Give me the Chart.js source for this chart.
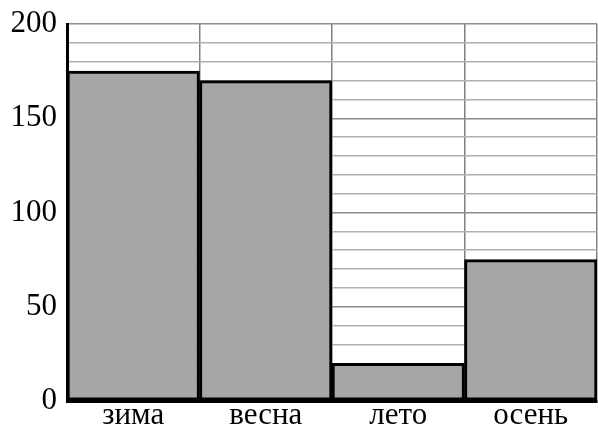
<!DOCTYPE html>
<html>
<head>
<meta charset="utf-8">
<script src="https://cdn.jsdelivr.net/npm/chart.js@4"></script>
<style>
  html, body { margin: 0; padding: 0; background: #fff; }
  #wrap { width: 598px; height: 427px; }
</style>
</head>
<body>
<div id="wrap"><canvas id="seasonChart"></canvas></div>
<script>
const seasons = ["зима", "весна", "лето", "осень"];
const values = [175, 170, 20, 75];
const yTicks = [0, 50, 100, 150, 200];

const ctx = document.getElementById("seasonChart").getContext("2d");

new Chart(ctx, {
  type: "bar",
  data: {
    labels: seasons,
    datasets: [{
      data: values,
      backgroundColor: "#a6a6a6",
      borderColor: "#000",
      borderWidth: 3,
      borderSkipped: false,
      categoryPercentage: 1,
      barPercentage: 1
    }]
  },
  options: {
    responsive: true,
    maintainAspectRatio: false,
    animation: false,
    layout: { padding: { top: 24, right: 1, left: 0, bottom: 0 } },
    plugins: { legend: { display: false }, tooltip: { enabled: false } },
    scales: {
      x: {
        grid: { color: "#808080", lineWidth: 1.5, offset: true, drawTicks: false },
        border: { color: "#000", width: 3 },
        ticks: {
          color: "#000",
          padding: -4,
          font: { family: "Liberation Serif", size: 31 }
        },
        afterFit: s => { s.height = 26; s.paddingLeft = 0; s.paddingRight = 0; }
      },
      y: {
        min: 0,
        max: 200,
        grid: {
          color: c => (c.tick.value % 50 === 0 ? "#8c8c8c" : "#b0b0b0"),
          lineWidth: 1.5,
          drawTicks: false
        },
        border: { color: "#000", width: 3 },
        afterBuildTicks: s => {
          // grid every 10, labels only at yTicks
          const t = [];
          for (let v = 0; v <= 200; v += 10) t.push({ value: v });
          s.ticks = t;
        },
        ticks: {
          color: "#000",
          padding: 10,
          autoSkip: false,
          font: { family: "Liberation Serif", size: 31 },
          callback: v => (yTicks.includes(v) ? String(v) : "")
        },
        afterFit: s => { s.width = 67; s.paddingTop = 0; s.paddingBottom = 0; }
      }
    }
  }
});
</script>
</body>
</html>
